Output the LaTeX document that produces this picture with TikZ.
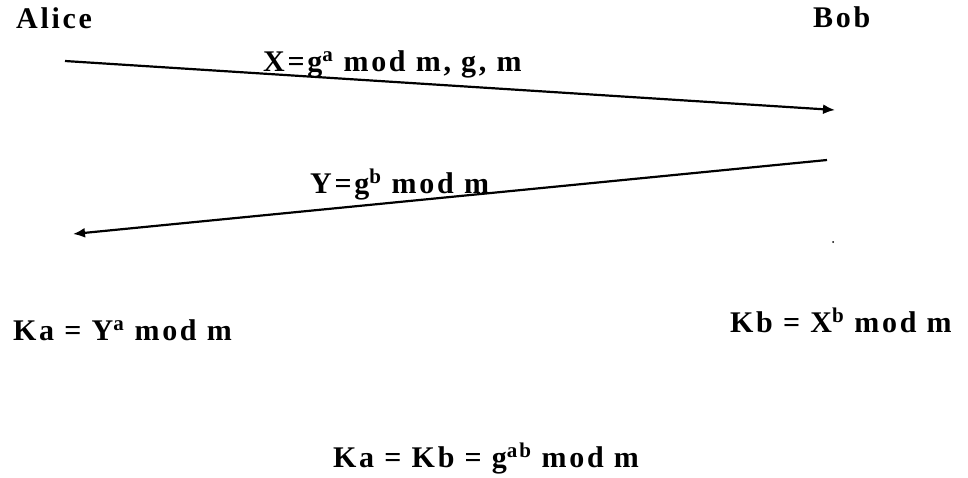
\documentclass[tikz,border=0pt]{standalone}
\usepackage{fontspec}
\setmainfont{Liberation Serif}[LetterSpace=9]
\usetikzlibrary{arrows.meta}
\tikzset{
  lbl/.style={anchor=base west, inner sep=0pt, font=\fontsize{30}{34}\selectfont\bfseries},
  msg/.style={line width=2.2pt, -{Latex[length=12pt,width=10pt]}}
}
\begin{document}
\begin{tikzpicture}[x=1pt,y=-1pt]
\useasboundingbox (0,0) rectangle (968,477);
\node[lbl] (alice) at (16,28) {Alice};
\node[lbl] (bob) at (813,27) {Bob};
\coordinate (a1s) at (65,61);
\coordinate (a1e) at (835,110);
\coordinate (a2s) at (827,160);
\coordinate (a2e) at (73,234);
\draw[msg] (a1s) -- (a1e);
\draw[msg] (a2s) -- (a2e);
\node[lbl] (xlab) at (263,71) {X=g\textsuperscript{a} mod m, g, m};
\node[lbl] (ylab) at (310,193) {Y=g\textsuperscript{b} mod m};
\node[lbl] (ka) at (13,340) {Ka = Y\textsuperscript{a} mod m};
\node[lbl] (kb) at (730,332) {Kb = X\textsuperscript{b} mod m};
\node[lbl] (kab) at (333,467) {Ka = Kb = g\textsuperscript{ab} mod m};
\fill (833,242) circle (1pt);
\end{tikzpicture}
\end{document}
